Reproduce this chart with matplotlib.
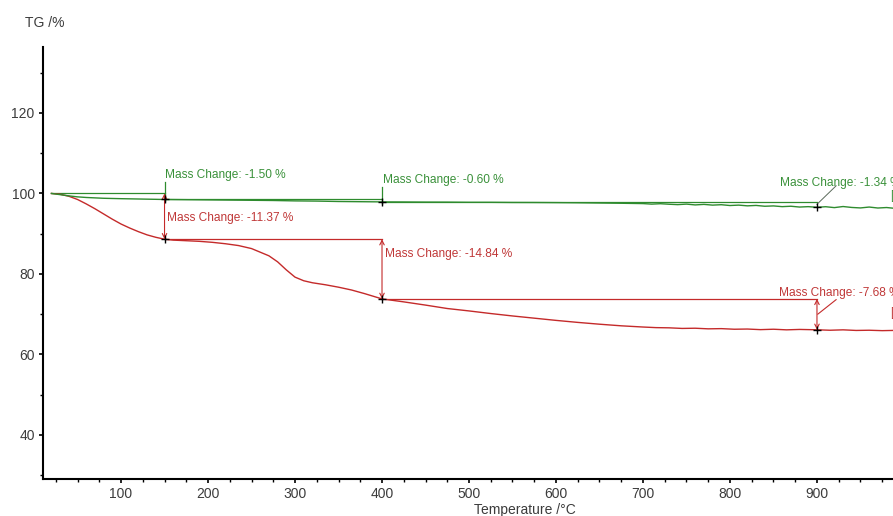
import matplotlib
matplotlib.use("Agg")
import matplotlib.pyplot as plt
from matplotlib.ticker import MultipleLocator

plt.rcParams['font.family'] = ['Liberation Sans', 'DejaVu Sans']

# TG curve of sample [2] (red)
red_temp = [20, 30, 40, 50, 60, 70, 80, 90, 100, 110, 120, 130, 140, 150,
            160, 175, 190, 205, 220, 235, 250, 260, 270, 280, 290, 300, 310,
            320, 335, 350, 365, 380, 400, 425, 450, 475, 500, 525, 550, 575,
            600, 625, 650, 675, 700, 715, 730, 745, 760, 775, 790, 805, 820,
            835, 850, 865, 880, 900, 915, 930, 945, 960, 975, 987]
red_mass = [100.0, 99.8, 99.3, 98.5, 97.4, 96.2, 94.9, 93.6, 92.4, 91.4, 90.5,
            89.7, 89.1, 88.63, 88.4, 88.25, 88.1, 87.85, 87.5, 87.05, 86.3,
            85.4, 84.5, 83.0, 81.0, 79.2, 78.3, 77.8, 77.3, 76.7, 76.0, 75.1,
            73.79, 73.05, 72.25, 71.4, 70.8, 70.15, 69.55, 69.0, 68.45, 67.95,
            67.5, 67.1, 66.8, 66.65, 66.6, 66.45, 66.5, 66.35, 66.4, 66.25,
            66.3, 66.15, 66.25, 66.1, 66.2, 66.11, 66.0, 66.1, 65.95, 66.0,
            65.9, 65.95]

# TG curve of sample [1] (green)
green_temp = [20, 30, 40, 50, 60, 80, 100, 125, 150, 175, 200, 225, 250, 275,
              300, 325, 350, 375, 400, 425, 450, 475, 500, 525, 550, 575, 600,
              625, 650, 675, 700, 710, 720, 730, 740, 750, 760, 770, 780, 790,
              800, 810, 820, 830, 840, 850, 860, 870, 880, 890, 900, 910, 920,
              930, 940, 950, 960, 970, 980, 987]
green_mass = [100.0, 99.7, 99.4, 99.15, 99.0, 98.8, 98.7, 98.6, 98.5, 98.45,
              98.4, 98.35, 98.3, 98.25, 98.15, 98.1, 98.0, 97.95, 97.9, 97.88,
              97.85, 97.84, 97.8, 97.8, 97.76, 97.75, 97.72, 97.68, 97.62,
              97.56, 97.48, 97.35, 97.45, 97.32, 97.22, 97.35, 97.15, 97.28,
              97.1, 97.2, 97.0, 97.1, 96.92, 97.02, 96.82, 96.9, 96.72, 96.82,
              96.62, 96.72, 96.56, 96.7, 96.48, 96.75, 96.52, 96.4, 96.62,
              96.38, 96.5, 96.35]

# evaluated steps: end temperature, starting level, change in %
red_steps_T = [150, 400, 900]
red_steps_level = [100.0, 88.63, 73.79]
red_steps_change = [-11.37, -14.84, -7.68]

green_steps_T = [150, 400, 900]
green_steps_level = [100.0, 98.50, 97.90]
green_steps_change = [-1.50, -0.60, -1.34]

RED = '#c42a2a'
GREEN = '#2e8b2e'
TXT_RED = '#c03838'
TXT_GREEN = '#3a913a'
ANN_FS = 8.6

fig = plt.figure(figsize=(8.93, 5.16), dpi=100)
ax = fig.add_axes([43 / 893, 1 - 478.7 / 516, 850 / 893, (478.7 - 47) / 516])

ax.plot(red_temp, red_mass, color=RED, lw=1.0, zorder=3)
ax.plot(green_temp, green_mass, color=GREEN, lw=1.0, zorder=3)

prev_T = 20
for T, lvl, ch in zip(green_steps_T, green_steps_level, green_steps_change):
    end = lvl + ch
    ax.plot([prev_T, T], [lvl, lvl], color=GREEN, lw=0.9, zorder=2)
    ax.plot(T, end, marker='+', color='black', ms=6, mew=1.0, zorder=5)
    prev_T = T

# green step markers and labels
ax.plot([150, 150], [98.0, 102.8], color=GREEN, lw=0.9, zorder=2)
ax.text(150.8, 104.7, f"Mass Change: {green_steps_change[0]:.2f} %",
        color=TXT_GREEN, fontsize=ANN_FS, va='center', ha='left')
ax.plot([400, 400], [97.4, 101.7], color=GREEN, lw=0.9, zorder=2)
ax.text(401, 103.3, f"Mass Change: {green_steps_change[1]:.2f} %",
        color=TXT_GREEN, fontsize=ANN_FS, va='center', ha='left')
ax.plot([900, 922], [97.3, 101.9], color='#5a6a5a', lw=0.7, zorder=2)
ax.text(857.5, 102.65, f"Mass Change: {green_steps_change[2]:.2f} %",
        color=TXT_GREEN, fontsize=ANN_FS, va='center', ha='left', clip_on=False)
ax.text(984.3, 99.4, "[1]", color=TXT_GREEN, fontsize=ANN_FS,
        va='center', ha='left', clip_on=False)

# red steps with double arrows
prev_T = 150
for T, lvl, ch in zip(red_steps_T, red_steps_level, red_steps_change):
    end = lvl + ch
    if T != 150:
        ax.plot([prev_T, T], [lvl, lvl], color=RED, lw=0.9, zorder=2)
    ax.annotate('', xy=(T, end), xytext=(T, lvl),
                arrowprops=dict(arrowstyle='<->', color=RED, lw=0.8,
                                mutation_scale=8, shrinkA=0, shrinkB=0),
                zorder=4)
    ax.plot(T, end, marker='+', color='black', ms=6, mew=1.0, zorder=5)
    prev_T = T

ax.text(153, 93.8, f"Mass Change: {red_steps_change[0]:.2f} %",
        color=TXT_RED, fontsize=ANN_FS, va='center', ha='left')
ax.text(403, 85.0, f"Mass Change: {red_steps_change[1]:.2f} %",
        color=TXT_RED, fontsize=ANN_FS, va='center', ha='left')
ax.plot([901, 922], [70.0, 73.6], color=RED, lw=0.8, zorder=2)
ax.text(856.5, 75.2, f"Mass Change: {red_steps_change[2]:.2f} %",
        color=TXT_RED, fontsize=ANN_FS, va='center', ha='left', clip_on=False)
ax.text(983.8, 70.2, "[2]", color=TXT_RED, fontsize=ANN_FS,
        va='center', ha='left', clip_on=False)

ax.set_xlim(10.3, 987.4)
ax.set_ylim(29.1, 136.4)

for s in ('top', 'right'):
    ax.spines[s].set_visible(False)
for s in ('left', 'bottom'):
    ax.spines[s].set_linewidth(1.5)

ax.xaxis.set_minor_locator(MultipleLocator(25))
ax.yaxis.set_minor_locator(MultipleLocator(10))
ax.set_xticks([100, 200, 300, 400, 500, 600, 700, 800, 900])
ax.set_yticks([40, 60, 80, 100, 120])
ax.tick_params(which='major', direction='out', length=3, width=1.2,
               labelsize=10, labelcolor='#3c3c3c', pad=3)
ax.tick_params(which='minor', direction='out', length=2, width=1.0)

ax.set_xlabel("Temperature /°C", fontsize=10, color='#3c3c3c')
ax.xaxis.set_label_coords(0.567, -0.057)
fig.text(25 / 893, 1 - 23 / 516, "TG /%", fontsize=10, color='#3c3c3c',
         va='center', ha='left')

fig.savefig("out.png", dpi=100)
